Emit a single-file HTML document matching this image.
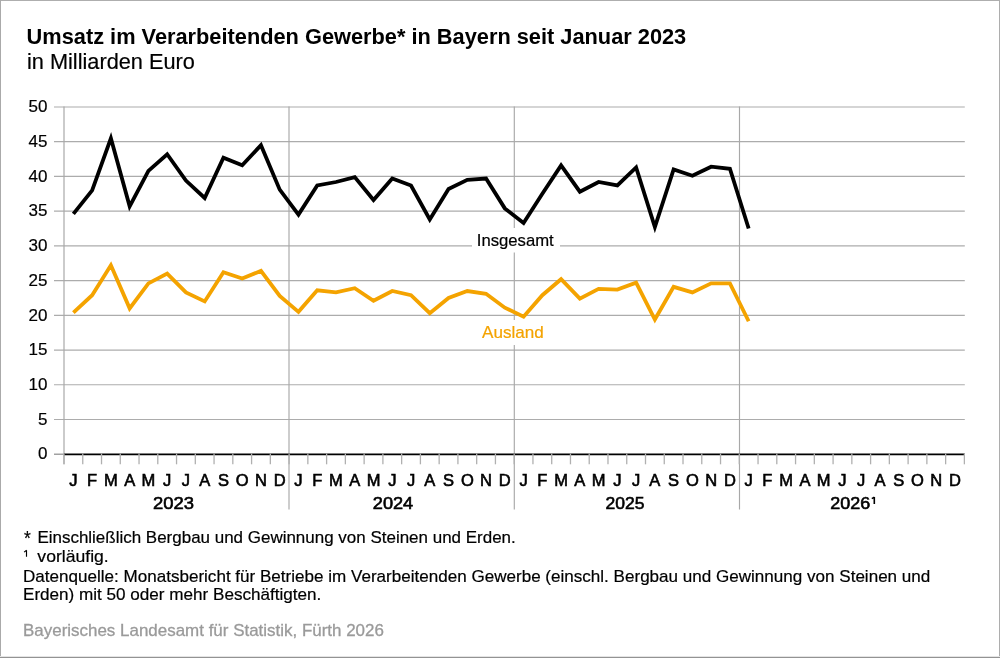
<!DOCTYPE html>
<html><head><meta charset="utf-8"><style>
html,body{margin:0;padding:0;background:#fff;}
svg{display:block;will-change:transform;}
text{font-family:"Liberation Sans",sans-serif;}
.yl{font-size:17px;fill:#000;stroke:#000;stroke-width:0.2px;}
.ml{font-size:16.5px;font-weight:normal;fill:#000;stroke:#000;stroke-width:0.6px;}
</style></head><body>
<svg width="1000" height="658" viewBox="0 0 1000 658">
<rect x="0" y="0" width="1000" height="658" fill="#fff"/>
<rect x="0" y="0" width="1000" height="1" fill="#aeaeae"/>
<rect x="0" y="0" width="1" height="658" fill="#aaaaaa"/>
<rect x="999" y="0" width="1" height="658" fill="#adadad"/>
<rect x="0" y="656" width="1000" height="1" fill="#e4e4e4"/>
<rect x="0" y="657" width="1000" height="1" fill="#939393"/>
<line x1="54" y1="419.48" x2="964.8" y2="419.48" stroke="#acacac" stroke-width="1.2"/>
<line x1="54" y1="384.76" x2="964.8" y2="384.76" stroke="#acacac" stroke-width="1.2"/>
<line x1="54" y1="350.04" x2="964.8" y2="350.04" stroke="#acacac" stroke-width="1.2"/>
<line x1="54" y1="315.32" x2="964.8" y2="315.32" stroke="#acacac" stroke-width="1.2"/>
<line x1="54" y1="280.60" x2="964.8" y2="280.60" stroke="#acacac" stroke-width="1.2"/>
<line x1="54" y1="245.88" x2="964.8" y2="245.88" stroke="#acacac" stroke-width="1.2"/>
<line x1="54" y1="211.16" x2="964.8" y2="211.16" stroke="#acacac" stroke-width="1.2"/>
<line x1="54" y1="176.44" x2="964.8" y2="176.44" stroke="#acacac" stroke-width="1.2"/>
<line x1="54" y1="141.72" x2="964.8" y2="141.72" stroke="#acacac" stroke-width="1.2"/>
<line x1="54" y1="107.00" x2="964.8" y2="107.00" stroke="#acacac" stroke-width="1.2"/>
<line x1="54" y1="454.20" x2="64" y2="454.20" stroke="#8a8a8a" stroke-width="1.2"/>
<line x1="64" y1="106.4" x2="64" y2="464.3" stroke="#a8a8a8" stroke-width="1.2"/>
<line x1="289.00" y1="106.4" x2="289.00" y2="509.5" stroke="#a8a8a8" stroke-width="1.15"/>
<line x1="514.30" y1="106.4" x2="514.30" y2="509.5" stroke="#a8a8a8" stroke-width="1.15"/>
<line x1="739.50" y1="106.4" x2="739.50" y2="509.5" stroke="#a8a8a8" stroke-width="1.15"/>
<line x1="64" y1="454.45" x2="964.8" y2="454.45" stroke="#000" stroke-width="1.75"/>
<line x1="64.00" y1="453.5" x2="64.00" y2="464.3" stroke="#b0b0b0" stroke-width="1.3"/>
<line x1="82.76" y1="453.5" x2="82.76" y2="464.3" stroke="#b0b0b0" stroke-width="1.3"/>
<line x1="101.52" y1="453.5" x2="101.52" y2="464.3" stroke="#b0b0b0" stroke-width="1.3"/>
<line x1="120.27" y1="453.5" x2="120.27" y2="464.3" stroke="#b0b0b0" stroke-width="1.3"/>
<line x1="139.03" y1="453.5" x2="139.03" y2="464.3" stroke="#b0b0b0" stroke-width="1.3"/>
<line x1="157.79" y1="453.5" x2="157.79" y2="464.3" stroke="#b0b0b0" stroke-width="1.3"/>
<line x1="176.55" y1="453.5" x2="176.55" y2="464.3" stroke="#b0b0b0" stroke-width="1.3"/>
<line x1="195.31" y1="453.5" x2="195.31" y2="464.3" stroke="#b0b0b0" stroke-width="1.3"/>
<line x1="214.06" y1="453.5" x2="214.06" y2="464.3" stroke="#b0b0b0" stroke-width="1.3"/>
<line x1="232.82" y1="453.5" x2="232.82" y2="464.3" stroke="#b0b0b0" stroke-width="1.3"/>
<line x1="251.58" y1="453.5" x2="251.58" y2="464.3" stroke="#b0b0b0" stroke-width="1.3"/>
<line x1="270.34" y1="453.5" x2="270.34" y2="464.3" stroke="#b0b0b0" stroke-width="1.3"/>
<line x1="289.10" y1="453.5" x2="289.10" y2="464.3" stroke="#b0b0b0" stroke-width="1.3"/>
<line x1="307.85" y1="453.5" x2="307.85" y2="464.3" stroke="#b0b0b0" stroke-width="1.3"/>
<line x1="326.61" y1="453.5" x2="326.61" y2="464.3" stroke="#b0b0b0" stroke-width="1.3"/>
<line x1="345.37" y1="453.5" x2="345.37" y2="464.3" stroke="#b0b0b0" stroke-width="1.3"/>
<line x1="364.13" y1="453.5" x2="364.13" y2="464.3" stroke="#b0b0b0" stroke-width="1.3"/>
<line x1="382.89" y1="453.5" x2="382.89" y2="464.3" stroke="#b0b0b0" stroke-width="1.3"/>
<line x1="401.64" y1="453.5" x2="401.64" y2="464.3" stroke="#b0b0b0" stroke-width="1.3"/>
<line x1="420.40" y1="453.5" x2="420.40" y2="464.3" stroke="#b0b0b0" stroke-width="1.3"/>
<line x1="439.16" y1="453.5" x2="439.16" y2="464.3" stroke="#b0b0b0" stroke-width="1.3"/>
<line x1="457.92" y1="453.5" x2="457.92" y2="464.3" stroke="#b0b0b0" stroke-width="1.3"/>
<line x1="476.68" y1="453.5" x2="476.68" y2="464.3" stroke="#b0b0b0" stroke-width="1.3"/>
<line x1="495.43" y1="453.5" x2="495.43" y2="464.3" stroke="#b0b0b0" stroke-width="1.3"/>
<line x1="514.19" y1="453.5" x2="514.19" y2="464.3" stroke="#b0b0b0" stroke-width="1.3"/>
<line x1="532.95" y1="453.5" x2="532.95" y2="464.3" stroke="#b0b0b0" stroke-width="1.3"/>
<line x1="551.71" y1="453.5" x2="551.71" y2="464.3" stroke="#b0b0b0" stroke-width="1.3"/>
<line x1="570.47" y1="453.5" x2="570.47" y2="464.3" stroke="#b0b0b0" stroke-width="1.3"/>
<line x1="589.22" y1="453.5" x2="589.22" y2="464.3" stroke="#b0b0b0" stroke-width="1.3"/>
<line x1="607.98" y1="453.5" x2="607.98" y2="464.3" stroke="#b0b0b0" stroke-width="1.3"/>
<line x1="626.74" y1="453.5" x2="626.74" y2="464.3" stroke="#b0b0b0" stroke-width="1.3"/>
<line x1="645.50" y1="453.5" x2="645.50" y2="464.3" stroke="#b0b0b0" stroke-width="1.3"/>
<line x1="664.26" y1="453.5" x2="664.26" y2="464.3" stroke="#b0b0b0" stroke-width="1.3"/>
<line x1="683.01" y1="453.5" x2="683.01" y2="464.3" stroke="#b0b0b0" stroke-width="1.3"/>
<line x1="701.77" y1="453.5" x2="701.77" y2="464.3" stroke="#b0b0b0" stroke-width="1.3"/>
<line x1="720.53" y1="453.5" x2="720.53" y2="464.3" stroke="#b0b0b0" stroke-width="1.3"/>
<line x1="739.29" y1="453.5" x2="739.29" y2="464.3" stroke="#b0b0b0" stroke-width="1.3"/>
<line x1="758.05" y1="453.5" x2="758.05" y2="464.3" stroke="#b0b0b0" stroke-width="1.3"/>
<line x1="776.80" y1="453.5" x2="776.80" y2="464.3" stroke="#b0b0b0" stroke-width="1.3"/>
<line x1="795.56" y1="453.5" x2="795.56" y2="464.3" stroke="#b0b0b0" stroke-width="1.3"/>
<line x1="814.32" y1="453.5" x2="814.32" y2="464.3" stroke="#b0b0b0" stroke-width="1.3"/>
<line x1="833.08" y1="453.5" x2="833.08" y2="464.3" stroke="#b0b0b0" stroke-width="1.3"/>
<line x1="851.84" y1="453.5" x2="851.84" y2="464.3" stroke="#b0b0b0" stroke-width="1.3"/>
<line x1="870.59" y1="453.5" x2="870.59" y2="464.3" stroke="#b0b0b0" stroke-width="1.3"/>
<line x1="889.35" y1="453.5" x2="889.35" y2="464.3" stroke="#b0b0b0" stroke-width="1.3"/>
<line x1="908.11" y1="453.5" x2="908.11" y2="464.3" stroke="#b0b0b0" stroke-width="1.3"/>
<line x1="926.87" y1="453.5" x2="926.87" y2="464.3" stroke="#b0b0b0" stroke-width="1.3"/>
<line x1="945.63" y1="453.5" x2="945.63" y2="464.3" stroke="#b0b0b0" stroke-width="1.3"/>
<line x1="964.38" y1="453.5" x2="964.38" y2="464.3" stroke="#b0b0b0" stroke-width="1.3"/>
<text x="47.5" y="459.40" text-anchor="end" class="yl">0</text>
<text x="47.5" y="424.68" text-anchor="end" class="yl">5</text>
<text x="47.5" y="389.96" text-anchor="end" class="yl">10</text>
<text x="47.5" y="355.24" text-anchor="end" class="yl">15</text>
<text x="47.5" y="320.52" text-anchor="end" class="yl">20</text>
<text x="47.5" y="285.80" text-anchor="end" class="yl">25</text>
<text x="47.5" y="251.08" text-anchor="end" class="yl">30</text>
<text x="47.5" y="216.36" text-anchor="end" class="yl">35</text>
<text x="47.5" y="181.64" text-anchor="end" class="yl">40</text>
<text x="47.5" y="146.92" text-anchor="end" class="yl">45</text>
<text x="47.5" y="112.20" text-anchor="end" class="yl">50</text>
<rect x="472" y="228" width="88" height="24.5" fill="#fff"/>
<rect x="474" y="320" width="80" height="25" fill="#fff"/>
<polyline points="73.38,213.94 92.14,190.33 110.89,138.25 129.65,206.30 148.41,170.88 167.17,154.22 185.93,180.61 204.69,197.97 223.44,157.69 242.20,165.33 260.96,145.19 279.72,189.63 298.48,214.63 317.23,185.47 335.99,182.00 354.75,177.13 373.51,200.05 392.26,178.52 411.02,185.47 429.78,219.49 448.54,188.94 467.30,179.91 486.06,178.52 504.81,208.38 523.57,222.96 542.33,193.80 561.09,165.33 579.85,191.72 598.60,182.00 617.36,185.47 636.12,167.41 654.88,227.13 673.63,169.50 692.39,175.75 711.15,166.72 729.91,168.80 748.67,228.52" fill="none" stroke="#000" stroke-width="3.8" stroke-linejoin="miter" stroke-miterlimit="10"/>
<polyline points="73.38,312.54 92.14,295.18 110.89,265.32 129.65,308.38 148.41,283.38 167.17,273.66 185.93,292.40 204.69,301.43 223.44,272.27 242.20,278.52 260.96,270.88 279.72,295.88 298.48,311.85 317.23,290.32 335.99,292.40 354.75,288.24 373.51,300.74 392.26,291.02 411.02,295.18 429.78,313.24 448.54,297.96 467.30,291.02 486.06,293.79 504.81,307.68 523.57,316.71 542.33,295.18 561.09,279.21 579.85,298.65 598.60,288.93 617.36,289.63 636.12,282.68 654.88,319.49 673.63,286.85 692.39,292.40 711.15,283.38 729.91,283.38 748.67,321.22" fill="none" stroke="#f4a300" stroke-width="3.8" stroke-linejoin="miter" stroke-miterlimit="10"/>
<text x="73.38" y="485.7" text-anchor="middle" class="ml">J</text>
<text x="92.14" y="485.7" text-anchor="middle" class="ml">F</text>
<text x="110.89" y="485.7" text-anchor="middle" class="ml">M</text>
<text x="129.65" y="485.7" text-anchor="middle" class="ml">A</text>
<text x="148.41" y="485.7" text-anchor="middle" class="ml">M</text>
<text x="167.17" y="485.7" text-anchor="middle" class="ml">J</text>
<text x="185.93" y="485.7" text-anchor="middle" class="ml">J</text>
<text x="204.69" y="485.7" text-anchor="middle" class="ml">A</text>
<text x="223.44" y="485.7" text-anchor="middle" class="ml">S</text>
<text x="242.20" y="485.7" text-anchor="middle" class="ml">O</text>
<text x="260.96" y="485.7" text-anchor="middle" class="ml">N</text>
<text x="279.72" y="485.7" text-anchor="middle" class="ml">D</text>
<text x="298.48" y="485.7" text-anchor="middle" class="ml">J</text>
<text x="317.23" y="485.7" text-anchor="middle" class="ml">F</text>
<text x="335.99" y="485.7" text-anchor="middle" class="ml">M</text>
<text x="354.75" y="485.7" text-anchor="middle" class="ml">A</text>
<text x="373.51" y="485.7" text-anchor="middle" class="ml">M</text>
<text x="392.26" y="485.7" text-anchor="middle" class="ml">J</text>
<text x="411.02" y="485.7" text-anchor="middle" class="ml">J</text>
<text x="429.78" y="485.7" text-anchor="middle" class="ml">A</text>
<text x="448.54" y="485.7" text-anchor="middle" class="ml">S</text>
<text x="467.30" y="485.7" text-anchor="middle" class="ml">O</text>
<text x="486.06" y="485.7" text-anchor="middle" class="ml">N</text>
<text x="504.81" y="485.7" text-anchor="middle" class="ml">D</text>
<text x="523.57" y="485.7" text-anchor="middle" class="ml">J</text>
<text x="542.33" y="485.7" text-anchor="middle" class="ml">F</text>
<text x="561.09" y="485.7" text-anchor="middle" class="ml">M</text>
<text x="579.85" y="485.7" text-anchor="middle" class="ml">A</text>
<text x="598.60" y="485.7" text-anchor="middle" class="ml">M</text>
<text x="617.36" y="485.7" text-anchor="middle" class="ml">J</text>
<text x="636.12" y="485.7" text-anchor="middle" class="ml">J</text>
<text x="654.88" y="485.7" text-anchor="middle" class="ml">A</text>
<text x="673.63" y="485.7" text-anchor="middle" class="ml">S</text>
<text x="692.39" y="485.7" text-anchor="middle" class="ml">O</text>
<text x="711.15" y="485.7" text-anchor="middle" class="ml">N</text>
<text x="729.91" y="485.7" text-anchor="middle" class="ml">D</text>
<text x="748.67" y="485.7" text-anchor="middle" class="ml">J</text>
<text x="767.42" y="485.7" text-anchor="middle" class="ml">F</text>
<text x="786.18" y="485.7" text-anchor="middle" class="ml">M</text>
<text x="804.94" y="485.7" text-anchor="middle" class="ml">A</text>
<text x="823.70" y="485.7" text-anchor="middle" class="ml">M</text>
<text x="842.46" y="485.7" text-anchor="middle" class="ml">J</text>
<text x="861.21" y="485.7" text-anchor="middle" class="ml">J</text>
<text x="879.97" y="485.7" text-anchor="middle" class="ml">A</text>
<text x="898.73" y="485.7" text-anchor="middle" class="ml">S</text>
<text x="917.49" y="485.7" text-anchor="middle" class="ml">O</text>
<text x="936.25" y="485.7" text-anchor="middle" class="ml">N</text>
<text x="955.00" y="485.7" text-anchor="middle" class="ml">D</text>
<text id="title" x="26.61" y="44.00" style="font-size:22px;font-weight:bold;fill:#000" textLength="659.62" lengthAdjust="spacingAndGlyphs">Umsatz im Verarbeitenden Gewerbe* in Bayern seit Januar 2023</text>
<text id="sub" x="27.02" y="69.00" style="font-size:22px;fill:#000;stroke:#000;stroke-width:0.2px" textLength="167.78" lengthAdjust="spacingAndGlyphs">in Milliarden Euro</text>
<text id="f1a" x="24.02" y="544.50" style="font-size:21px;fill:#000;stroke:#000;stroke-width:0.2px" textLength="6.81" lengthAdjust="spacingAndGlyphs">*</text>
<text id="f1b" x="37.40" y="543.00" style="font-size:17px;fill:#000;stroke:#000;stroke-width:0.2px" textLength="478.35" lengthAdjust="spacingAndGlyphs">Einschließlich Bergbau und Gewinnung von Steinen und Erden.</text>
<text id="f2b" x="37.39" y="562.00" style="font-size:17px;fill:#000;stroke:#000;stroke-width:0.2px" textLength="71.32" lengthAdjust="spacingAndGlyphs">vorläufig.</text>
<text id="f3" x="23.00" y="581.50" style="font-size:17px;fill:#000;stroke:#000;stroke-width:0.2px" textLength="907.31" lengthAdjust="spacingAndGlyphs">Datenquelle: Monatsbericht für Betriebe im Verarbeitenden Gewerbe (einschl. Bergbau und Gewinnung von Steinen und</text>
<text id="f4" x="23.00" y="600.00" style="font-size:17px;fill:#000;stroke:#000;stroke-width:0.2px" textLength="298.31" lengthAdjust="spacingAndGlyphs">Erden) mit 50 oder mehr Beschäftigten.</text>
<text id="src" x="23.00" y="636.00" style="font-size:17px;fill:#9a9a9a;stroke:#9a9a9a;stroke-width:0.3px" textLength="360.90" lengthAdjust="spacingAndGlyphs">Bayerisches Landesamt für Statistik, Fürth 2026</text>
<text id="ins" x="476.78" y="246.00" style="font-size:17px;fill:#000;stroke:#000;stroke-width:0.2px" textLength="76.98" lengthAdjust="spacingAndGlyphs">Insgesamt</text>
<text id="aus" x="482.00" y="338.00" style="font-size:17px;fill:#f4a300;stroke:#f4a300;stroke-width:0.2px" textLength="61.68" lengthAdjust="spacingAndGlyphs">Ausland</text>
<text id="y23" x="152.97" y="509.00" style="font-size:17px;fill:#000;stroke:#000;stroke-width:0.6px" textLength="40.98" lengthAdjust="spacingAndGlyphs">2023</text>
<text id="y24" x="372.81" y="509.00" style="font-size:17px;fill:#000;stroke:#000;stroke-width:0.6px" textLength="40.39" lengthAdjust="spacingAndGlyphs">2024</text>
<text id="y25" x="605.55" y="509.00" style="font-size:17px;fill:#000;stroke:#000;stroke-width:0.6px" textLength="38.92" lengthAdjust="spacingAndGlyphs">2025</text>
<text id="y26" x="830.32" y="509.00" style="font-size:17px;fill:#000;stroke:#000;stroke-width:0.6px" textLength="39.87" lengthAdjust="spacingAndGlyphs">2026</text>
<path id="sup1" d="M26.5,550.3 L26.5,556.8 M24.1,552.1 L26.6,550.3" fill="none" stroke="#000" stroke-width="1.15"/>
<path id="sup2" d="M874.3,497.0 L874.3,504.0 M871.8,498.6 L874.4,497.1" fill="none" stroke="#000" stroke-width="1.6"/>
</svg>
</body></html>
